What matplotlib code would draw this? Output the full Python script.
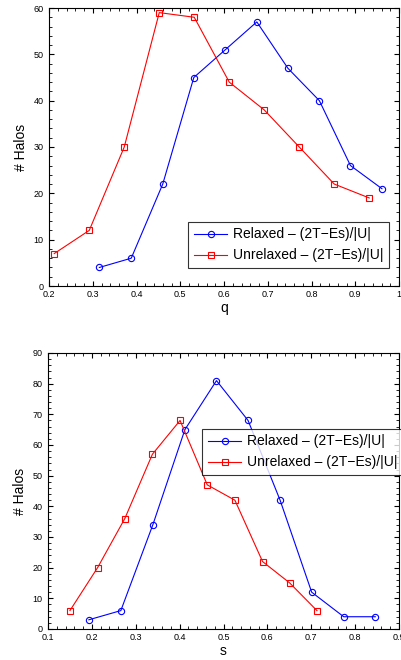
import matplotlib
matplotlib.use('Agg')
import matplotlib.pyplot as plt
from matplotlib.ticker import AutoMinorLocator

# top panel: q
q_rel = [0.315, 0.388, 0.460, 0.531, 0.603, 0.675, 0.746, 0.818, 0.889, 0.961]
n_q_rel = [4, 6, 22, 45, 51, 57, 47, 40, 26, 21]
q_unrel = [0.212, 0.292, 0.372, 0.452, 0.532, 0.612, 0.692, 0.772, 0.852, 0.932]
n_q_unrel = [7, 12, 30, 59, 58, 44, 38, 30, 22, 19]

# bottom panel: s
s_rel = [0.193, 0.266, 0.339, 0.412, 0.484, 0.556, 0.629, 0.701, 0.774, 0.846]
n_s_rel = [3, 6, 34, 65, 81, 68, 42, 12, 4, 4]
s_unrel = [0.150, 0.213, 0.275, 0.338, 0.401, 0.463, 0.526, 0.589, 0.651, 0.713]
n_s_unrel = [6, 20, 36, 57, 68, 47, 42, 22, 15, 6]

lab_rel = 'Relaxed \u2013 (2T\u2212Es)/|U|'
lab_unrel = 'Unrelaxed \u2013 (2T\u2212Es)/|U|'

plt.rcParams['font.family'] = ['Liberation Sans', 'DejaVu Sans']

fig = plt.figure(figsize=(4.01, 6.60), dpi=100)
W, H = 401, 660
ax1 = fig.add_axes([49 / W, 1 - 286 / H, 350 / W, 278 / H])
ax2 = fig.add_axes([48 / W, 1 - 629 / H, 351 / W, 276 / H])


def style(ax):
    ax.tick_params(which='both', direction='in', top=True, right=True, labelsize=6.5)
    ax.tick_params(axis='x', pad=3)
    ax.tick_params(axis='y', pad=4)
    ax.tick_params(which='major', length=3.5)
    ax.tick_params(which='minor', length=2)
    ax.xaxis.set_minor_locator(AutoMinorLocator(5))
    ax.yaxis.set_minor_locator(AutoMinorLocator(5))
    for sp in ax.spines.values():
        sp.set_linewidth(0.8)


mk = dict(markersize=4.5, markerfacecolor='none', linewidth=0.8, markeredgewidth=0.8)

ax1.plot(q_rel, n_q_rel, 'o-', color='blue', label=lab_rel, **mk)
ax1.plot(q_unrel, n_q_unrel, 's-', color='red', label=lab_unrel, **mk)
ax1.set_xlim(0.2, 1.0)
ax1.set_ylim(0, 60)
ax1.set_xticks([0.2, 0.3, 0.4, 0.5, 0.6, 0.7, 0.8, 0.9, 1.0])
ax1.set_xticklabels(['0.2', '0.3', '0.4', '0.5', '0.6', '0.7', '0.8', '0.9', '1'])
ax1.set_yticks(range(0, 61, 10))
ax1.set_xlabel('q', fontsize=10, labelpad=1)
ax1.set_ylabel('# Halos', fontsize=10, labelpad=4)
style(ax1)
leg1 = ax1.legend(loc='lower right', bbox_to_anchor=(0.971, 0.065), fontsize=10,
                  frameon=True, fancybox=False, edgecolor='black', handlelength=2.4,
                  borderpad=0.4, labelspacing=0.5, handletextpad=0.4, borderaxespad=0)
leg1.get_frame().set_linewidth(0.8)

ax2.plot(s_rel, n_s_rel, 'o-', color='blue', label=lab_rel, **mk)
ax2.plot(s_unrel, n_s_unrel, 's-', color='red', label=lab_unrel, **mk)
ax2.set_xlim(0.1, 0.9)
ax2.set_ylim(0, 90)
ax2.set_xticks([0.1, 0.2, 0.3, 0.4, 0.5, 0.6, 0.7, 0.8, 0.9])
ax2.set_yticks(range(0, 91, 10))
ax2.set_xlabel('s', fontsize=10, labelpad=1)
ax2.set_ylabel('# Halos', fontsize=10, labelpad=4)
style(ax2)
leg2 = ax2.legend(loc='upper left', bbox_to_anchor=(0.44, 0.725), fontsize=10,
                  frameon=True, fancybox=False, edgecolor='black', handlelength=2.4,
                  borderpad=0.4, labelspacing=0.5, handletextpad=0.4, borderaxespad=0)
leg2.get_frame().set_linewidth(0.8)
leg2.set_clip_on(False)

fig.savefig('out.png', dpi=100)
